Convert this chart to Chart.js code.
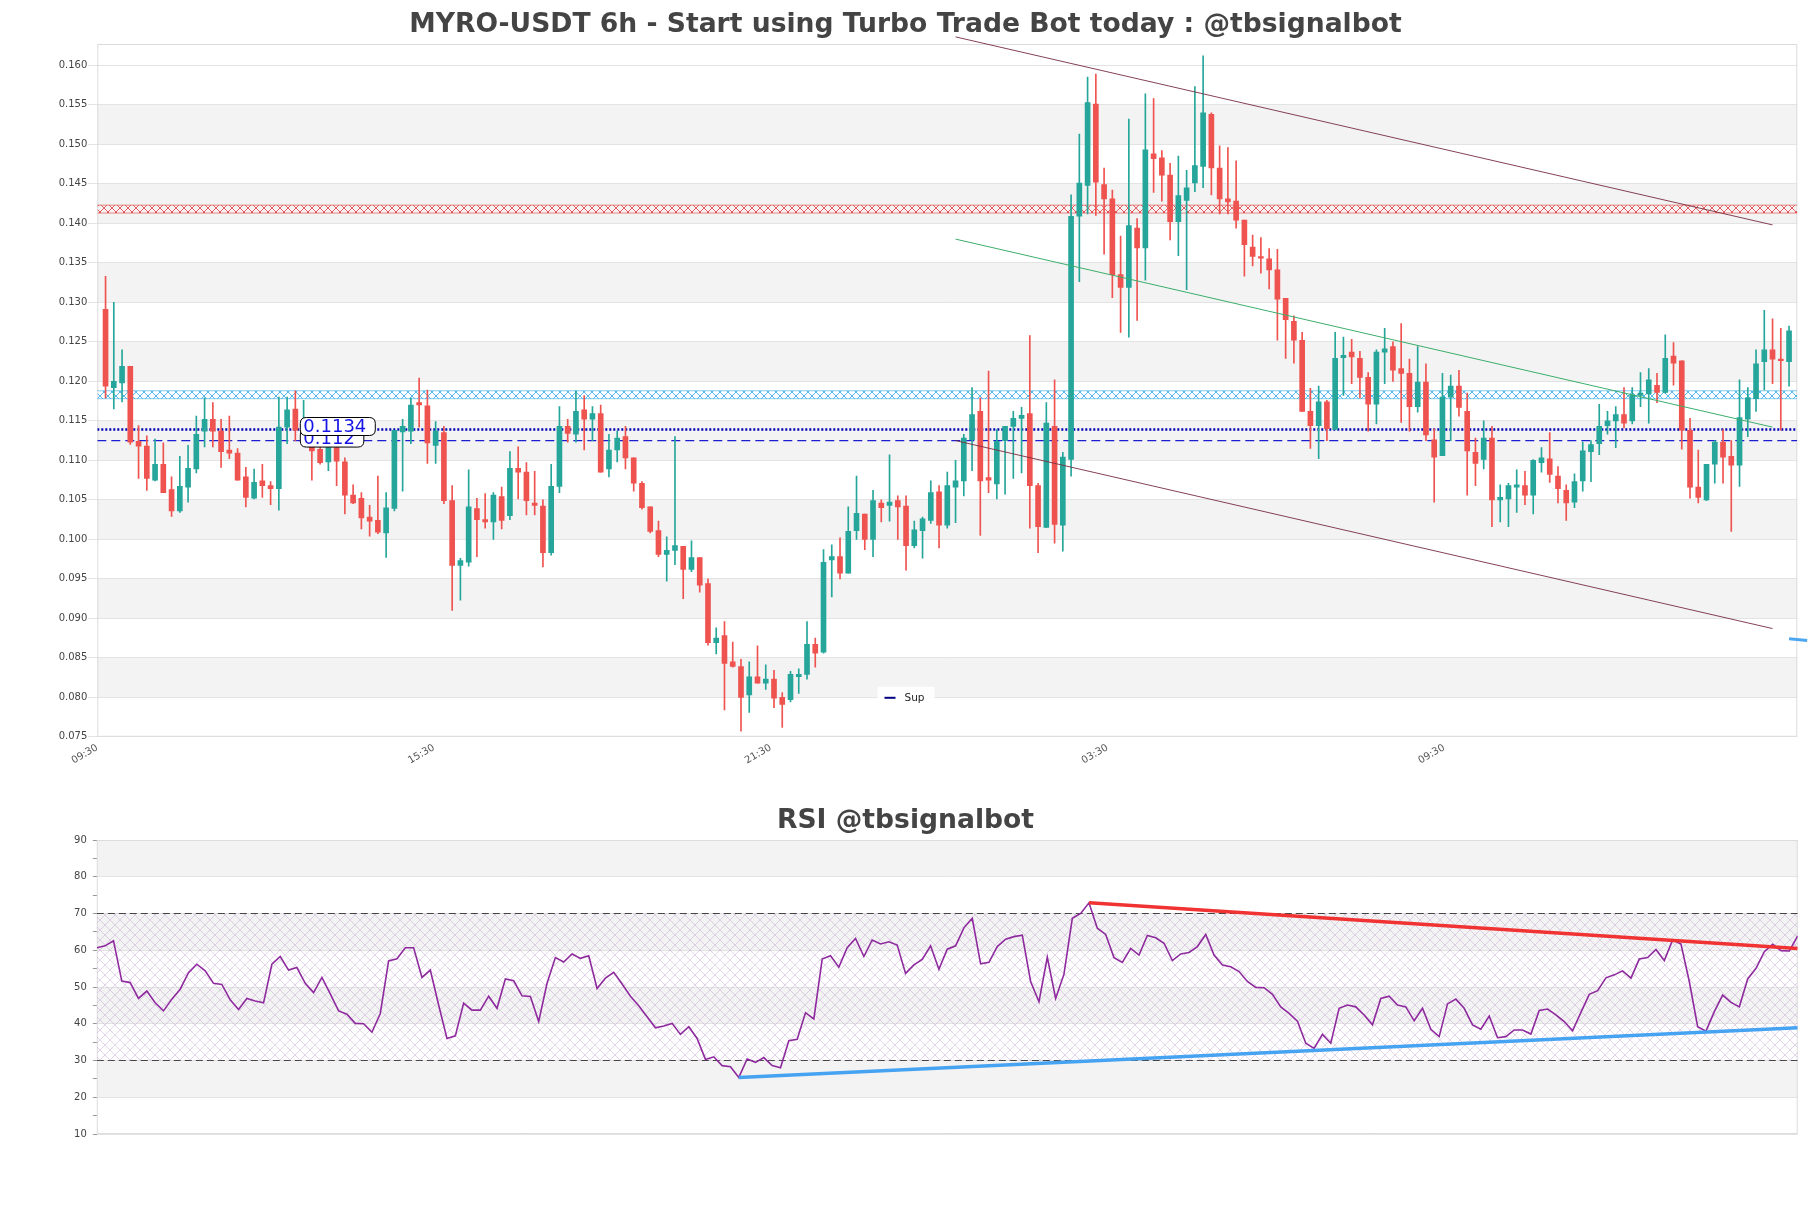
<!DOCTYPE html>
<html lang="en">
<head>
    <meta charset="UTF-8">
    <title>MYRO-USDT 6h</title>
    <script src="https://cdn.jsdelivr.net/npm/chart.js"></script>
    <style>
        body {
            margin: 0;
            background: #fff;
            font-family: "DejaVu Sans", sans-serif;
        }
        #wrap {
            position: relative;
            width: 1811px;
            height: 1208px;
        }
        #price { position: absolute; left: 0; top: 0; }
        #rsi { position: absolute; left: 0; top: 780px; }
    </style>
</head>
<body>
<div id="wrap">
    <canvas id="price" width="1811" height="780"></canvas>
    <canvas id="rsi" width="1811" height="428"></canvas>
</div>

<script>
    // candles, oldest first
    const opens = [
        0.1291, 0.1192, 0.1198, 0.1219, 0.1124, 0.1118, 0.1075, 0.1095, 0.1063, 0.1036,
        0.1066, 0.1089, 0.1137, 0.1152, 0.1137, 0.1113, 0.1109, 0.1079, 0.1052, 0.1074,
        0.1068, 0.1064, 0.1142, 0.1165, 0.1138, 0.1125, 0.1114, 0.1098, 0.1116, 0.1098,
        0.1056, 0.1052, 0.1028, 0.1024, 0.1008, 0.1039, 0.1136, 0.1137, 0.1173, 0.1169,
        0.1119, 0.1135, 0.1049, 0.0967, 0.0971, 0.1039, 0.1025, 0.1022, 0.1054, 0.1030,
        0.1090, 0.1085, 0.1046, 0.1042, 0.0983, 0.1067, 0.1143, 0.1133, 0.1164, 0.1152,
        0.1159, 0.1089, 0.1113, 0.1130, 0.1103, 0.1071, 0.1041, 0.1011, 0.0981, 0.0986,
        0.0991, 0.0962, 0.0977, 0.0944, 0.0869, 0.0878, 0.0845, 0.0839, 0.0803, 0.0826,
        0.0818, 0.0823, 0.0800, 0.0797, 0.0826, 0.0829, 0.0867, 0.0857, 0.0974, 0.0978,
        0.0957, 0.1011, 0.1032, 0.1000, 0.1046, 0.1043, 0.1049, 0.1042, 0.0992, 0.1011,
        0.1024, 0.1060, 0.1018, 0.1066, 0.1074, 0.1126, 0.1162, 0.1078, 0.1070, 0.1125,
        0.1143, 0.1153, 0.1159, 0.1068, 0.1015, 0.1143, 0.1018, 0.1101, 0.1409, 0.1448,
        0.1551, 0.1449, 0.1431, 0.1335, 0.1319, 0.1394, 0.1369, 0.1488, 0.1483, 0.1461,
        0.1402, 0.1429, 0.1451, 0.1472, 0.1538, 0.1470, 0.1431, 0.1428, 0.1404, 0.1370,
        0.1358, 0.1355, 0.1341, 0.1305, 0.1276, 0.1252, 0.1162, 0.1144, 0.1174, 0.1139,
        0.1230, 0.1237, 0.1229, 0.1205, 0.1171, 0.1237, 0.1244, 0.1216, 0.1210, 0.1168,
        0.1199, 0.1126, 0.1106, 0.1180, 0.1194, 0.1162, 0.1110, 0.1101, 0.1128, 0.1050,
        0.1051, 0.1066, 0.1068, 0.1056, 0.1097, 0.1102, 0.1080, 0.1062, 0.1047, 0.1074,
        0.1111, 0.1121, 0.1144, 0.1150, 0.1158, 0.1150, 0.1182, 0.1184, 0.1195, 0.1186,
        0.1232, 0.1226, 0.1138, 0.1066, 0.1050, 0.1095, 0.1123, 0.1105, 0.1094, 0.1152,
        0.1178, 0.1225, 0.1240, 0.1228, 0.1225
    ];
    const highs = [
        0.1333, 0.1300, 0.1240, 0.1219, 0.1144, 0.1131, 0.1127, 0.1122, 0.1079, 0.1105,
        0.1119, 0.1156, 0.1179, 0.1173, 0.1152, 0.1156, 0.1115, 0.1091, 0.1089, 0.1095,
        0.1073, 0.1180, 0.1180, 0.1188, 0.1176, 0.1140, 0.1120, 0.1125, 0.1122, 0.1103,
        0.1069, 0.1059, 0.1043, 0.1080, 0.1059, 0.1138, 0.1152, 0.1179, 0.1204, 0.1189,
        0.1149, 0.1143, 0.1068, 0.0976, 0.1088, 0.1052, 0.1058, 0.1059, 0.1066, 0.1111,
        0.1117, 0.1097, 0.1086, 0.1050, 0.1095, 0.1168, 0.1152, 0.1188, 0.1182, 0.1168,
        0.1170, 0.1133, 0.1137, 0.1143, 0.1103, 0.1073, 0.1041, 0.1023, 0.1003, 0.1130,
        0.0991, 0.0998, 0.0977, 0.0950, 0.0888, 0.0896, 0.0870, 0.0848, 0.0845, 0.0865,
        0.0841, 0.0834, 0.0806, 0.0833, 0.0836, 0.0896, 0.0875, 0.0987, 0.0993, 0.1002,
        0.1041, 0.1080, 0.1032, 0.1062, 0.1050, 0.1107, 0.1055, 0.1055, 0.1023, 0.1028,
        0.1074, 0.1068, 0.1085, 0.1100, 0.1133, 0.1192, 0.1179, 0.1213, 0.1139, 0.1143,
        0.1162, 0.1167, 0.1258, 0.1071, 0.1173, 0.1202, 0.1110, 0.1436, 0.1513, 0.1585,
        0.1589, 0.1470, 0.1442, 0.1384, 0.1532, 0.1406, 0.1564, 0.1558, 0.1492, 0.1476,
        0.1485, 0.1467, 0.1573, 0.1612, 0.1540, 0.1498, 0.1496, 0.1479, 0.1404, 0.1385,
        0.1382, 0.1368, 0.1367, 0.1305, 0.1283, 0.1262, 0.1191, 0.1194, 0.1176, 0.1262,
        0.1256, 0.1253, 0.1238, 0.1211, 0.1240, 0.1267, 0.1250, 0.1273, 0.1228, 0.1244,
        0.1222, 0.1140, 0.1210, 0.1208, 0.1214, 0.1185, 0.1128, 0.1150, 0.1143, 0.1069,
        0.1071, 0.1088, 0.1086, 0.1101, 0.1116, 0.1135, 0.1092, 0.1069, 0.1083, 0.1123,
        0.1125, 0.1171, 0.1162, 0.1168, 0.1192, 0.1192, 0.1211, 0.1216, 0.1210, 0.1259,
        0.1249, 0.1226, 0.1153, 0.1113, 0.1095, 0.1125, 0.1139, 0.1125, 0.1202, 0.1192,
        0.1240, 0.1290, 0.1279, 0.1267, 0.1270
    ];
    const lows = [
        0.1179, 0.1165, 0.1174, 0.1120, 0.1077, 0.1062, 0.1074, 0.1059, 0.1029, 0.1034,
        0.1047, 0.1084, 0.1117, 0.1117, 0.1091, 0.1102, 0.1075, 0.1041, 0.1051, 0.1053,
        0.1044, 0.1037, 0.1121, 0.1125, 0.1130, 0.1075, 0.1095, 0.1087, 0.1068, 0.1032,
        0.1045, 0.1013, 0.1004, 0.1007, 0.0977, 0.1036, 0.1061, 0.1121, 0.1142, 0.1096,
        0.1096, 0.1045, 0.0910, 0.0923, 0.0966, 0.0978, 0.1014, 0.1000, 0.1013, 0.1025,
        0.1051, 0.1031, 0.1031, 0.0965, 0.0980, 0.1059, 0.1123, 0.1123, 0.1113, 0.1125,
        0.1085, 0.1079, 0.1098, 0.1089, 0.1061, 0.1038, 0.1008, 0.0978, 0.0947, 0.0968,
        0.0925, 0.0959, 0.0933, 0.0866, 0.0855, 0.0784, 0.0838, 0.0757, 0.0781, 0.0818,
        0.0810, 0.0787, 0.0762, 0.0794, 0.0805, 0.0823, 0.0838, 0.0856, 0.0927, 0.0950,
        0.0957, 0.1000, 0.0987, 0.0978, 0.1022, 0.1023, 0.1000, 0.0961, 0.0989, 0.0976,
        0.1020, 0.0989, 0.1014, 0.1021, 0.1055, 0.1087, 0.1005, 0.1059, 0.1051, 0.1057,
        0.1077, 0.1084, 0.1014, 0.0983, 0.1015, 0.0995, 0.0985, 0.1080, 0.1326, 0.1412,
        0.1410, 0.1361, 0.1306, 0.1262, 0.1256, 0.1277, 0.1328, 0.1439, 0.1428, 0.1379,
        0.1359, 0.1316, 0.1440, 0.1445, 0.1436, 0.1412, 0.1412, 0.1394, 0.1333, 0.1346,
        0.1337, 0.1317, 0.1252, 0.1229, 0.1223, 0.1162, 0.1115, 0.1102, 0.1125, 0.1139,
        0.1182, 0.1197, 0.1179, 0.1137, 0.1146, 0.1197, 0.1200, 0.1148, 0.1137, 0.1161,
        0.1125, 0.1047, 0.1106, 0.1125, 0.1156, 0.1056, 0.1068, 0.1089, 0.1016, 0.1022,
        0.1016, 0.1034, 0.1044, 0.1032, 0.1085, 0.1072, 0.1046, 0.1024, 0.1040, 0.1061,
        0.1073, 0.1107, 0.1133, 0.1116, 0.1141, 0.1146, 0.1168, 0.1147, 0.1173, 0.1185,
        0.1195, 0.1114, 0.1052, 0.1046, 0.1049, 0.1071, 0.1071, 0.1010, 0.1067, 0.1130,
        0.1162, 0.1189, 0.1197, 0.1138, 0.1194
    ];
    const closes = [
        0.1194, 0.1200, 0.1219, 0.1123, 0.1118, 0.1077, 0.1095, 0.1059, 0.1036, 0.1067,
        0.1090, 0.1133, 0.1152, 0.1137, 0.1111, 0.1109, 0.1075, 0.1053, 0.1072, 0.1068,
        0.1064, 0.1142, 0.1164, 0.1138, 0.1150, 0.1112, 0.1097, 0.1116, 0.1099, 0.1056,
        0.1046, 0.1027, 0.1023, 0.1009, 0.1040, 0.1138, 0.1143, 0.1170, 0.1170, 0.1122,
        0.1137, 0.1049, 0.0967, 0.0973, 0.1041, 0.1025, 0.1022, 0.1056, 0.1024, 0.1090,
        0.1085, 0.1049, 0.1043, 0.0983, 0.1067, 0.1143, 0.1134, 0.1162, 0.1152, 0.1159,
        0.1085, 0.1113, 0.1128, 0.1103, 0.1071, 0.1040, 0.1010, 0.0981, 0.0986, 0.0992,
        0.0962, 0.0977, 0.0942, 0.0869, 0.0875, 0.0843, 0.0839, 0.0800, 0.0826, 0.0818,
        0.0823, 0.0799, 0.0791, 0.0829, 0.0829, 0.0867, 0.0856, 0.0971, 0.0978, 0.0957,
        0.1010, 0.1033, 0.1000, 0.1049, 0.1040, 0.1047, 0.1041, 0.0992, 0.1012, 0.1026,
        0.1059, 0.1018, 0.1068, 0.1074, 0.1128, 0.1158, 0.1074, 0.1075, 0.1124, 0.1143,
        0.1153, 0.1157, 0.1068, 0.1016, 0.1147, 0.1019, 0.1104, 0.1409, 0.1451, 0.1553,
        0.1452, 0.1431, 0.1335, 0.1319, 0.1397, 0.1369, 0.1493, 0.1482, 0.1461, 0.1402,
        0.1435, 0.1445, 0.1473, 0.1540, 0.1470, 0.1431, 0.1427, 0.1404, 0.1373, 0.1358,
        0.1356, 0.1341, 0.1304, 0.1278, 0.1252, 0.1162, 0.1144, 0.1174, 0.1140, 0.1229,
        0.1233, 0.1231, 0.1205, 0.1171, 0.1237, 0.1241, 0.1214, 0.1210, 0.1168, 0.1199,
        0.1132, 0.1104, 0.1180, 0.1194, 0.1167, 0.1112, 0.1096, 0.1128, 0.1050, 0.1053,
        0.1068, 0.1069, 0.1056, 0.1100, 0.1103, 0.1082, 0.1064, 0.1046, 0.1073, 0.1112,
        0.1120, 0.1143, 0.1150, 0.1158, 0.1147, 0.1183, 0.1185, 0.1202, 0.1186, 0.1229,
        0.1223, 0.1138, 0.1066, 0.1053, 0.1095, 0.1123, 0.1104, 0.1094, 0.1154, 0.1179,
        0.1222, 0.1240, 0.1228, 0.1226, 0.1264
    ];

    const rsiValues = [
        60.7, 61.2, 62.6, 51.6, 51.2, 46.9, 48.9, 45.7, 43.5, 46.7,
        49.4, 53.9, 56.2, 54.4, 51.0, 50.7, 46.5, 43.9, 46.9, 46.2,
        45.7, 56.2, 58.3, 54.6, 55.3, 51.0, 48.5, 52.6, 48.1, 43.5,
        42.6, 40.1, 40.0, 37.7, 42.8, 57.1, 57.7, 60.7, 60.7, 52.6,
        54.6, 45.1, 36.0, 36.7, 45.6, 43.7, 43.7, 47.5, 44.2, 52.2,
        51.7, 47.6, 47.4, 40.6, 51.0, 58.0, 56.8, 59.0, 57.8, 58.5,
        49.6, 52.4, 54.0, 50.8, 47.5, 44.9, 41.9, 38.9, 39.4, 40.1,
        37.1, 39.2, 36.0, 30.3, 31.0, 28.6, 28.3, 25.4, 30.4, 29.5,
        30.8, 28.6, 28.0, 35.4, 35.8, 43.0, 41.3, 57.6, 58.5, 55.4,
        60.7, 63.2, 58.3, 62.8, 61.7, 62.3, 61.4, 53.7, 56.0, 57.5,
        61.2, 54.8, 60.3, 61.2, 66.1, 68.7, 56.3, 56.7, 61.0, 63.0,
        63.7, 64.1, 51.5, 46.0, 58.1, 46.9, 53.5, 68.7, 70.0, 72.9,
        66.0, 64.3, 58.0, 56.7, 60.5, 58.7, 64.0, 63.4, 61.9, 57.2,
        59.0, 59.4, 61.0, 64.3, 58.7, 56.0, 55.5, 54.2, 51.5, 49.9,
        49.8, 48.0, 44.6, 42.8, 40.7, 34.7, 33.3, 37.1, 34.7, 44.2,
        45.1, 44.6, 42.4, 39.7, 46.9, 47.5, 45.1, 44.6, 40.8, 44.2,
        38.5, 36.5, 45.4, 46.7, 44.2, 39.7, 38.5, 42.1, 36.2, 36.5,
        38.3, 38.3, 37.2, 43.6, 44.0, 42.4, 40.6, 38.1, 43.1, 48.0,
        49.0, 52.5, 53.3, 54.4, 52.4, 57.6, 58.0, 60.2, 57.2, 62.8,
        61.7, 51.5, 39.2, 38.0, 43.3, 47.8, 45.8, 44.6, 52.2, 55.1,
        59.6, 61.6, 59.9, 59.8, 63.9
    ];

    const xTickLabels = ['09:30', '15:30', '21:30', '03:30', '09:30'];
    const xTickPos = [0, 40.8, 81.6, 122.4, 163.2];
    const priceTicks = [0.075, 0.080, 0.085, 0.090, 0.095, 0.100, 0.105, 0.110, 0.115,
                        0.120, 0.125, 0.130, 0.135, 0.140, 0.145, 0.150, 0.155, 0.160];
    const rsiTicks = [10, 20, 30, 40, 50, 60, 70, 80, 90];

    // horizontal zones and levels
    const resistZone = [0.1413, 0.1423];
    const supportZone = [0.1178, 0.1188];
    const levelValues = [0.1139, 0.1125];
    const levelLabels = ['0.1134', '0.112'];

    // trend lines [position, price]
    const channelTop = [[104, 0.1636], [203, 0.1398]];
    const channelMid = [[104, 0.1380], [203, 0.1142]];
    const channelLow = [[104, 0.1125], [203, 0.0887]];
    const projTip = [[205, 0.0874], [207.2, 0.0872]];
    const rsiResist = [[119, 72.9], [204, 60.5]];
    const rsiSupport = [[77, 25.4], [204, 38.9]];

    const priceCanvas = document.getElementById('price');
    const rsiCanvas = document.getElementById('rsi');

    function makeHatch(canvas, color, size) {
        const tile = document.createElement('canvas');
        tile.width = size;
        tile.height = size;
        const g = tile.getContext('2d');
        g.strokeStyle = color;
        g.lineWidth = 1;
        g.beginPath();
        g.moveTo(0, 0); g.lineTo(size, size);
        g.moveTo(size, 0); g.lineTo(0, size);
        g.stroke();
        return canvas.getContext('2d').createPattern(tile, 'repeat');
    }

    function pts(arr) {
        return arr.map(p => ({ x: p[0], y: p[1] }));
    }

    function flat(v, x0, x1) {
        return [{ x: x0, y: v }, { x: x1, y: v }];
    }

    // grey bands, frame round the plot, and the centred title
    const bandPlugin = {
        id: 'bands',
        beforeDraw(chart, args, opts) {
            const { ctx, chartArea: a, scales: { y } } = chart;
            const vals = y.ticks.map(t => t.value)
                .filter(v => Math.abs(v / opts.step - Math.round(v / opts.step)) < 1e-6);
            ctx.save();
            ctx.fillStyle = '#f3f3f3';
            for (let i = 0; i < vals.length - 1; i++) {
                if (Math.round(vals[i] / opts.step) % 2 !== 0) continue;
                const top = y.getPixelForValue(vals[i + 1]);
                const bottom = y.getPixelForValue(vals[i]);
                ctx.fillRect(a.left, top, a.right - a.left, bottom - top);
            }
            ctx.restore();
        },
        beforeDatasetsDraw(chart) {
            const { ctx, chartArea: a } = chart;
            ctx.save();
            ctx.strokeStyle = '#dcdcdc';
            ctx.lineWidth = 1;
            ctx.strokeRect(a.left + 0.5, a.top + 0.5, a.right - a.left - 1, a.bottom - a.top - 1);
            ctx.restore();
        },
        afterDraw(chart, args, opts) {
            const ctx = chart.ctx;
            ctx.save();
            ctx.font = 'bold 26.6px "DejaVu Sans"';
            ctx.fillStyle = '#444';
            ctx.textAlign = 'center';
            ctx.textBaseline = 'middle';
            ctx.fillText(opts.title, chart.width / 2, opts.titleY);
            ctx.restore();
        }
    };

    function roundBox(ctx, x, y, w, h, r) {
        ctx.beginPath();
        ctx.moveTo(x + r, y);
        ctx.lineTo(x + w - r, y);
        ctx.quadraticCurveTo(x + w, y, x + w, y + r);
        ctx.lineTo(x + w, y + h - r);
        ctx.quadraticCurveTo(x + w, y + h, x + w - r, y + h);
        ctx.lineTo(x + r, y + h);
        ctx.quadraticCurveTo(x, y + h, x, y + h - r);
        ctx.lineTo(x, y + r);
        ctx.quadraticCurveTo(x, y, x + r, y);
        ctx.closePath();
    }

    // price tags on the level lines and the small "Sup" legend
    const tagPlugin = {
        id: 'tags',
        afterDraw(chart) {
            const { ctx, chartArea: a, scales: { x, y } } = chart;
            const lift = [3, 2.5];
            ctx.save();
            ctx.font = '18px "DejaVu Sans"';
            ctx.textBaseline = 'middle';
            for (let i = levelLabels.length - 1; i >= 0; i--) {
                const text = levelLabels[i];
                const w = ctx.measureText(text).width + 12;
                const left = x.getPixelForValue(24.6);
                const cy = y.getPixelForValue(levelValues[i]) - lift[i];
                roundBox(ctx, left, cy - 9, w, 18, 6);
                ctx.fillStyle = '#fff';
                ctx.fill();
                ctx.strokeStyle = '#000';
                ctx.lineWidth = 1;
                ctx.stroke();
                ctx.fillStyle = '#1414e6';
                ctx.fillText(text, left + 3, cy + 1);
            }

            const lx = chart.width / 2 - 28;
            const ly = a.bottom - 50;
            ctx.fillStyle = 'rgba(255,255,255,0.92)';
            ctx.fillRect(lx, ly, 57, 21);
            ctx.strokeStyle = '#000080';
            ctx.lineWidth = 2;
            ctx.beginPath();
            ctx.moveTo(lx + 7, ly + 11);
            ctx.lineTo(lx + 18, ly + 11);
            ctx.stroke();
            ctx.fillStyle = '#222';
            ctx.font = '10.5px "DejaVu Sans"';
            ctx.fillText('Sup', lx + 27, ly + 11);
            ctx.restore();
        }
    };

    const pos = opens.map((_, i) => i + 1);
    const candleColors = opens.map((o, i) => closes[i] >= o ? '#26a69a' : '#ef5350');
    const xMax = opens.length + 1;

    const redHatch = makeHatch(priceCanvas, 'rgba(225,40,40,0.75)', 8);
    const blueHatch = makeHatch(priceCanvas, 'rgba(30,160,230,0.75)', 8);
    const rsiHatch = makeHatch(rsiCanvas, 'rgba(185,150,200,0.4)', 10);

    const tickFont = { family: 'DejaVu Sans', size: 10 };

    new Chart(priceCanvas, {
        type: 'bar',
        data: {
            datasets: [
                {
                    label: 'wick',
                    data: pos.map((p, i) => ({ x: p, y: [lows[i], highs[i]] })),
                    backgroundColor: candleColors,
                    barThickness: 1,
                    grouped: false,
                    order: 3
                },
                {
                    label: 'body',
                    data: pos.map((p, i) => ({ x: p, y: [opens[i], closes[i]] })),
                    backgroundColor: candleColors,
                    barThickness: 5,
                    minBarLength: 1,
                    grouped: false,
                    order: 2
                },
                {
                    type: 'line', label: 'res top',
                    data: flat(resistZone[1], 0, xMax),
                    borderColor: 'rgba(220,40,40,0.55)', borderWidth: 1,
                    backgroundColor: redHatch, fill: '+1',
                    pointRadius: 0, order: 6
                },
                {
                    type: 'line', label: 'res bottom',
                    data: flat(resistZone[0], 0, xMax),
                    borderColor: 'rgba(220,40,40,0.55)', borderWidth: 1,
                    fill: false, pointRadius: 0, order: 6
                },
                {
                    type: 'line', label: 'sup top',
                    data: flat(supportZone[1], 0, xMax),
                    borderColor: 'rgba(30,160,230,0.55)', borderWidth: 1,
                    backgroundColor: blueHatch, fill: '+1',
                    pointRadius: 0, order: 6
                },
                {
                    type: 'line', label: 'sup bottom',
                    data: flat(supportZone[0], 0, xMax),
                    borderColor: 'rgba(30,160,230,0.55)', borderWidth: 1,
                    fill: false, pointRadius: 0, order: 6
                },
                {
                    type: 'line', label: 'level 1',
                    data: flat(levelValues[0], 0, xMax),
                    borderColor: '#0000b4', borderWidth: 2.5, borderDash: [2, 2],
                    fill: false, pointRadius: 0, order: 5
                },
                {
                    type: 'line', label: 'Sup',
                    data: flat(levelValues[1], 0, xMax),
                    borderColor: '#1c1cd2', borderWidth: 1.2, borderDash: [9, 5],
                    fill: false, pointRadius: 0, order: 5
                },
                {
                    type: 'line', label: 'channel top',
                    data: pts(channelTop),
                    borderColor: 'rgba(120,45,65,0.9)', borderWidth: 1,
                    fill: false, pointRadius: 0, clip: false, order: 1
                },
                {
                    type: 'line', label: 'channel low',
                    data: pts(channelLow),
                    borderColor: 'rgba(120,45,65,0.9)', borderWidth: 1,
                    fill: false, pointRadius: 0, clip: false, order: 1
                },
                {
                    type: 'line', label: 'channel mid',
                    data: pts(channelMid),
                    borderColor: '#3cae6a', borderWidth: 1,
                    fill: false, pointRadius: 0, clip: false, order: 1
                },
                {
                    type: 'line', label: 'tip',
                    data: pts(projTip),
                    borderColor: '#4da6f0', borderWidth: 3,
                    fill: false, pointRadius: 0, clip: false, order: 1
                }
            ]
        },
        options: {
            responsive: false,
            maintainAspectRatio: false,
            devicePixelRatio: 1,
            animation: false,
            events: [],
            layout: { padding: { left: 0, right: 13.7, top: 44, bottom: 0 } },
            scales: {
                x: {
                    type: 'linear',
                    min: 0,
                    max: xMax,
                    offset: false,
                    afterBuildTicks: s => { s.ticks = xTickPos.map(v => ({ value: v })); },
                    afterFit: s => { s.height = 43.2; },
                    grid: { display: false, drawTicks: false },
                    border: { display: false },
                    ticks: {
                        callback: (v, i) => xTickLabels[i],
                        minRotation: 30,
                        maxRotation: 30,
                        autoSkip: false,
                        padding: 5,
                        font: tickFont,
                        color: '#555'
                    }
                },
                y: {
                    type: 'linear',
                    min: 0.075,
                    max: 0.1627,
                    afterBuildTicks: s => { s.ticks = priceTicks.map(v => ({ value: v })); },
                    afterFit: s => { s.width = 97.3; },
                    grid: { color: '#e3e3e3', tickLength: 9 },
                    border: { display: false },
                    ticks: {
                        callback: v => v.toFixed(3),
                        autoSkip: false,
                        padding: 1,
                        font: tickFont,
                        color: '#444'
                    }
                }
            },
            plugins: {
                legend: { display: false },
                tooltip: { enabled: false },
                title: { display: false },
                bands: {
                    step: 0.005,
                    title: 'MYRO-USDT 6h - Start using Turbo Trade Bot today : @tbsignalbot',
                    titleY: 25.3
                }
            }
        },
        plugins: [bandPlugin, tagPlugin]
    });

    const rsiLast = rsiValues.length - 1;

    new Chart(rsiCanvas, {
        type: 'line',
        data: {
            datasets: [
                {
                    label: 'RSI',
                    data: rsiValues.map((v, i) => ({ x: i, y: v })),
                    borderColor: '#8e2a9e',
                    borderWidth: 1.6,
                    pointRadius: 0,
                    fill: false,
                    order: 2
                },
                {
                    label: 'overbought',
                    data: flat(70, 0, rsiLast),
                    borderColor: '#444', borderWidth: 1, borderDash: [7, 4],
                    backgroundColor: rsiHatch, fill: '+1',
                    pointRadius: 0, order: 3
                },
                {
                    label: 'oversold',
                    data: flat(30, 0, rsiLast),
                    borderColor: '#444', borderWidth: 1, borderDash: [7, 4],
                    fill: false, pointRadius: 0, order: 3
                },
                {
                    label: 'rsi resistance',
                    data: pts(rsiResist),
                    borderColor: '#f03232', borderWidth: 3.5,
                    fill: false, pointRadius: 0, order: 1
                },
                {
                    label: 'rsi support',
                    data: pts(rsiSupport),
                    borderColor: '#46a3f2', borderWidth: 3.5,
                    fill: false, pointRadius: 0, order: 1
                }
            ]
        },
        options: {
            responsive: false,
            maintainAspectRatio: false,
            devicePixelRatio: 1,
            animation: false,
            events: [],
            layout: { padding: { left: 0, right: 13.3, top: 60, bottom: 74 } },
            scales: {
                x: { type: 'linear', min: 0, max: rsiLast, display: false },
                y: {
                    type: 'linear',
                    min: 10,
                    max: 90,
                    afterBuildTicks: s => {
                        s.ticks = rsiTicks.flatMap((v, i) => i < rsiTicks.length - 1 ? [v, v + 5] : [v])
                            .map(v => ({ value: v }));
                    },
                    afterFit: s => { s.width = 96.8; },
                    grid: {
                        color: c => (c.tick && c.tick.value % 10 === 0) ? '#e3e3e3' : 'rgba(0,0,0,0)',
                        tickColor: '#999',
                        tickLength: 4
                    },
                    border: { display: false },
                    ticks: {
                        callback: v => v % 10 === 0 ? String(v) : '',
                        autoSkip: false,
                        padding: 6,
                        font: tickFont,
                        color: '#444'
                    }
                }
            },
            plugins: {
                legend: { display: false },
                tooltip: { enabled: false },
                title: { display: false },
                bands: { step: 10, title: 'RSI @tbsignalbot', titleY: 41.4 }
            }
        },
        plugins: [bandPlugin]
    });
</script>
</body>
</html>
